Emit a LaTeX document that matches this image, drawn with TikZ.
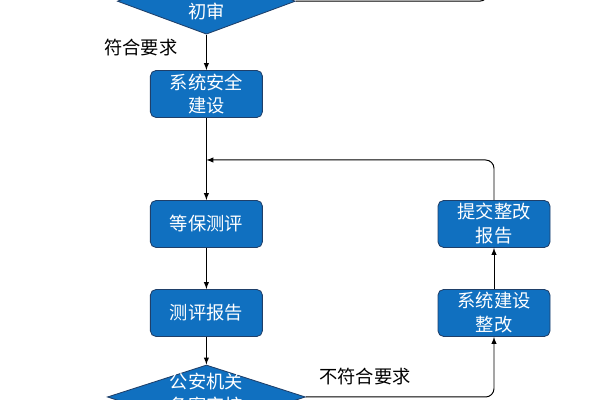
\documentclass[tikz,border=0pt]{standalone}
\usepackage{fontspec}
\setmainfont{Noto Sans CJK SC}
\usepackage{tikz}
\usetikzlibrary{shapes.geometric}
\definecolor{boxblue}{RGB}{16,112,192}
\definecolor{boxedge}{RGB}{31,63,105}
\tikzset{>=latex}

\begin{document}
\begin{tikzpicture}[thick, every node/.style={font=\fontsize{13}{17}\selectfont}]
		\useasboundingbox (0,0) rectangle (15,10);
		\tikzset{
			stepbox/.style={draw=boxedge,fill=boxblue,text=white,rounded corners=4pt,minimum width=2.8cm,minimum height=1.175cm,align=center,inner sep=1pt,line width=0.6pt},
			decision/.style={diamond,draw=boxedge,fill=boxblue,inner sep=0pt,line width=0.6pt},
			flow/.style={line width=0.7pt,->}
		}
		% Check at the top (cut off by the page)
		\node[decision,minimum width=4.45cm,minimum height=1.65cm] (review) at (5.16,9.97) {};
		\node[text=white] (reviewtxt) at (5.16,9.7) {初审};
		% Main column
		\node[stepbox] (build) at (5.16,7.65) {系统安全\\建设};
		\node[stepbox] (test) at (5.16,4.4) {等保测评};
		\node[stepbox] (report) at (5.16,2.175) {测评报告};
		\node[decision,minimum width=4.95cm,minimum height=1.6cm] (audit) at (5.16,0.075) {};
		\node[text=white,align=center] (audittxt) at (5.16,0.15) {公安机关\\备案审核};
		% Rework column
		\node[stepbox] (fix) at (12.35,2.175) {系统建设\\整改};
		\node[stepbox] (submit) at (12.35,4.4) {提交整改\\报告};
		\coordinate (merge) at (5.16,6);
		\coordinate (back) at (12.2,10.6);
		% Labels
		\node (pass) at (3.525,8.8) {符合要求};
		\node (fail) at (9.125,0.575) {不符合要求};
		% Connectors
		\draw[flow] (review) -- (build);
		\draw[flow] (build) -- (test);
		\draw[flow] (test) -- (report);
		\draw[flow] (report) -- (audit);
		\draw[flow,rounded corners=6pt] (audit.east) -| (fix.south);
		\draw[flow] (fix) -- (submit);
		\draw[flow,rounded corners=6pt] (submit.north) |- (merge);
		\draw[line width=0.7pt,rounded corners=6pt] (review.east) -| (back);
\end{tikzpicture}
\end{document}
